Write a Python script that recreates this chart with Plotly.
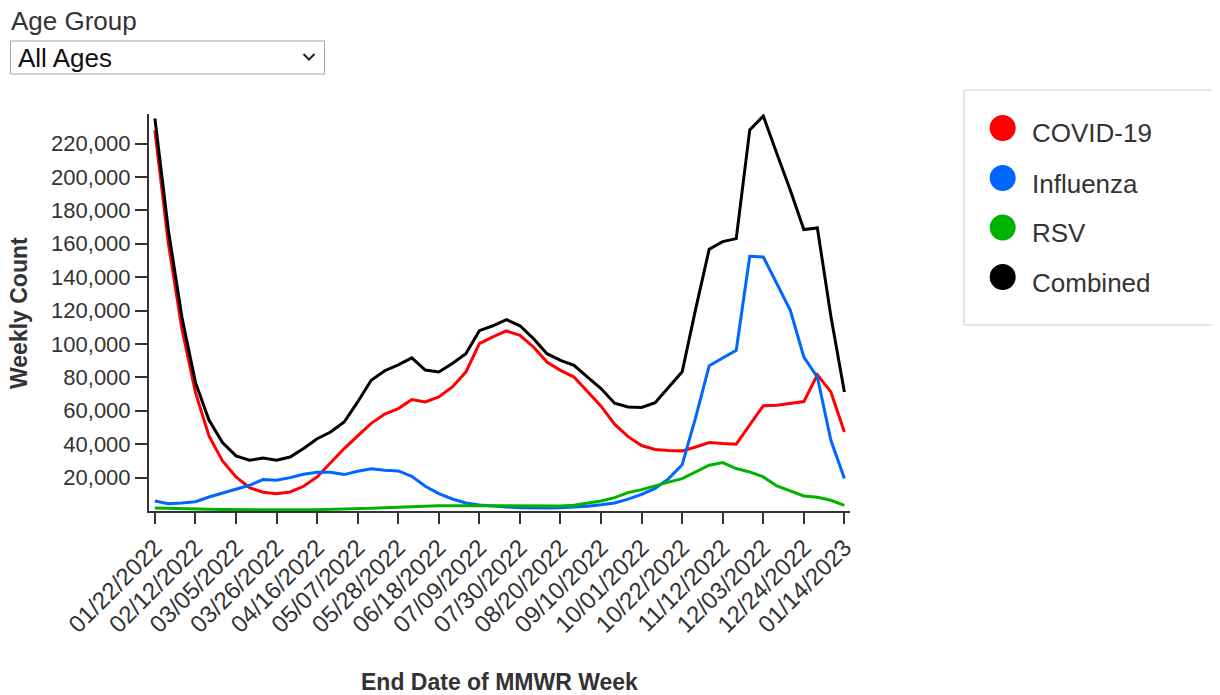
import plotly.graph_objects as go

# ---------------- data ----------------
week_ending = [
    "01/22/2022", "01/29/2022", "02/05/2022", "02/12/2022", "02/19/2022", "02/26/2022",
    "03/05/2022", "03/12/2022", "03/19/2022", "03/26/2022", "04/02/2022", "04/09/2022",
    "04/16/2022", "04/23/2022", "04/30/2022", "05/07/2022", "05/14/2022", "05/21/2022",
    "05/28/2022", "06/04/2022", "06/11/2022", "06/18/2022", "06/25/2022", "07/02/2022",
    "07/09/2022", "07/16/2022", "07/23/2022", "07/30/2022", "08/06/2022", "08/13/2022",
    "08/20/2022", "08/27/2022", "09/03/2022", "09/10/2022", "09/17/2022", "09/24/2022",
    "10/01/2022", "10/08/2022", "10/15/2022", "10/22/2022", "10/29/2022", "11/05/2022",
    "11/12/2022", "11/19/2022", "11/26/2022", "12/03/2022", "12/10/2022", "12/17/2022",
    "12/24/2022", "12/31/2022", "01/07/2023", "01/14/2023",
]

covid = [
    228000, 160000, 109000, 71000, 45000, 30000, 20400, 14000, 11200, 10400, 11400, 14800,
    20400, 28700, 37400, 45000, 52500, 58000, 61300, 66700, 65300, 68300, 74300, 83200,
    100200, 104200, 107800, 105200, 98200, 89200, 84200, 80200, 71300, 62800, 52000, 44500,
    39200, 36800, 36200, 36000, 38300, 41000, 40400, 40000, 51600, 63000, 63300, 64300,
    65500, 81500, 71300, 47300,
]

influenza = [
    6000, 4400, 4800, 5600, 8400, 10800, 13200, 15400, 18800, 18400, 20000, 22000,
    23200, 23200, 21800, 23800, 25300, 24400, 24000, 20800, 14800, 10400, 7200, 4800,
    3600, 2800, 2400, 2000, 1800, 1800, 2000, 2400, 2800, 3700, 4800, 7100,
    9900, 13500, 19400, 27700, 56000, 87000, 91500, 96200, 152500, 152100, 136200, 120200,
    92200, 80200, 42300, 19400,
]

rsv = [
    1800, 1500, 1300, 1100, 1000, 900, 800, 700, 700, 600, 600, 700,
    800, 900, 1100, 1300, 1600, 2000, 2400, 2800, 3000, 3200, 3200, 3200,
    3100, 3000, 2900, 2800, 2800, 2900, 3000, 3400, 4500, 6000, 8000, 11000,
    12800, 15200, 17300, 19400, 23400, 27400, 29000, 25400, 23400, 20400, 15000, 12000,
    9000, 8200, 6400, 3400,
]

combined = [
    235000, 168000, 116000, 77000, 54500, 41000, 33000, 30400, 31700, 30400, 32300, 37400,
    43300, 47300, 53300, 65300, 78300, 84000, 87500, 91700, 84400, 83200, 88300, 94200,
    108000, 110900, 114600, 110900, 103200, 94200, 90200, 87200, 80200, 73300, 64500, 62300,
    62000, 64800, 74100, 83400, 121000, 156800, 161300, 163100, 228200, 236500, 214000, 192000,
    168500, 169500, 116600, 71300,
]

x_tick_labels = [
    "01/22/2022", "02/12/2022", "03/05/2022", "03/26/2022", "04/16/2022", "05/07/2022",
    "05/28/2022", "06/18/2022", "07/09/2022", "07/30/2022", "08/20/2022", "09/10/2022",
    "10/01/2022", "10/22/2022", "11/12/2022", "12/03/2022", "12/24/2022", "01/14/2023",
]
y_tick_values = [20000, 40000, 60000, 80000, 100000, 120000, 140000, 160000, 180000, 200000, 220000]
y_tick_labels = ["20,000", "40,000", "60,000", "80,000", "100,000", "120,000",
                 "140,000", "160,000", "180,000", "200,000", "220,000"]

series_names = ["COVID-19", "Influenza", "RSV", "Combined"]
series_colors = ["#ff0000", "#0066ff", "#00b300", "#000000"]

# ---------------- layout geometry ----------------
# The page body adds an 8px offset, so the figure is sized to the visible window.
OFF = 8
W, H = 1220 - OFF, 695 - OFF
# plot-area edges in window pixels
L, R, T, B = 149, 850, 114, 511
FONT = "Liberation Sans, Arial, sans-serif"


def px(xp):
    return (xp - L) / (R - L)


def py(yp):
    return (B - yp) / (B - T)


fig = go.Figure()
for name, vals, col in zip(series_names, [covid, influenza, rsv, combined], series_colors):
    fig.add_trace(go.Scatter(
        x=week_ending, y=vals, name=name, mode="lines",
        line=dict(color=col, width=3),
        hovertemplate="%{x}<br>" + name + ": %{y:,}<extra></extra>",
    ))

shapes = []
annotations = []

# Age group selector
annotations.append(dict(x=px(9), y=py(21), xref="paper", yref="paper", text="Age Group",
                        showarrow=False, xanchor="left", yanchor="middle",
                        font=dict(size=26, color="#333333", family=FONT)))
shapes.append(dict(type="rect", xref="paper", yref="paper",
                   x0=px(10.5), x1=px(324.5), y0=py(41), y1=py(74),
                   line=dict(color="#a6a6a6", width=1), fillcolor="white"))
annotations.append(dict(x=px(16), y=py(58), xref="paper", yref="paper", text="All Ages",
                        showarrow=False, xanchor="left", yanchor="middle",
                        font=dict(size=26, color="#111111", family=FONT)))
shapes.append(dict(type="path", xref="paper", yref="paper",
                   path=f"M {px(303.5)} {py(54)} L {px(309)} {py(59.5)} L {px(314.5)} {py(54)}",
                   line=dict(color="#222222", width=2)))

# Legend box
shapes.append(dict(type="rect", xref="paper", yref="paper",
                   x0=px(964), x1=px(1240), y0=py(90), y1=py(325),
                   line=dict(color="#cccccc", width=1), fillcolor="white"))
circle_y = [128, 178, 227.5, 277]
text_y = [133, 183.5, 232.5, 282.5]
for name, col, cy, ty in zip(series_names, series_colors, circle_y, text_y):
    shapes.append(dict(type="circle", xref="paper", yref="paper",
                       x0=px(1002.7 - 13), x1=px(1002.7 + 13), y0=py(cy + 13), y1=py(cy - 13),
                       line=dict(color=col, width=0), fillcolor=col))
    annotations.append(dict(x=px(1030), y=py(ty), xref="paper", yref="paper", text=name,
                            showarrow=False, xanchor="left", yanchor="middle",
                            font=dict(size=26, color="#333333", family=FONT)))

# Axis titles
annotations.append(dict(x=px(19), y=py(313), xref="paper", yref="paper", text="Weekly Count",
                        showarrow=False, xanchor="center", yanchor="middle", textangle=-90,
                        font=dict(size=23, color="#333333", family=FONT, weight="bold")))
annotations.append(dict(x=px(500), y=py(682), xref="paper", yref="paper",
                        text="End Date of MMWR Week",
                        showarrow=False, xanchor="center", yanchor="middle",
                        font=dict(size=23, color="#333333", family=FONT, weight="bold")))

fig.update_layout(
    width=W, height=H,
    margin=dict(l=L - OFF, r=W - (R - OFF), t=T - OFF, b=H - (B - OFF), pad=0),
    paper_bgcolor="white", plot_bgcolor="white",
    showlegend=False,
    font=dict(family=FONT, color="#333333"),
    shapes=shapes, annotations=annotations,
    xaxis=dict(
        type="category", range=[-0.436, 51.414],
        tickmode="array", tickvals=x_tick_labels, ticktext=x_tick_labels,
        tickangle=-45, ticks="outside", ticklen=11, tickwidth=1.5, tickcolor="#333333",
        showline=True, linecolor="#333333", linewidth=2, showgrid=False, zeroline=False,
        tickfont=dict(size=24, color="#333333", family=FONT),
    ),
    yaxis=dict(
        range=[0, 237700],
        tickmode="array", tickvals=y_tick_values, ticktext=y_tick_labels,
        ticks="outside", ticklen=12, tickwidth=1.5, tickcolor="#333333",
        showline=True, linecolor="#333333", linewidth=2, showgrid=False, zeroline=False,
        tickfont=dict(size=22, color="#333333", family=FONT),
    ),
)

fig.write_html("out.html")
